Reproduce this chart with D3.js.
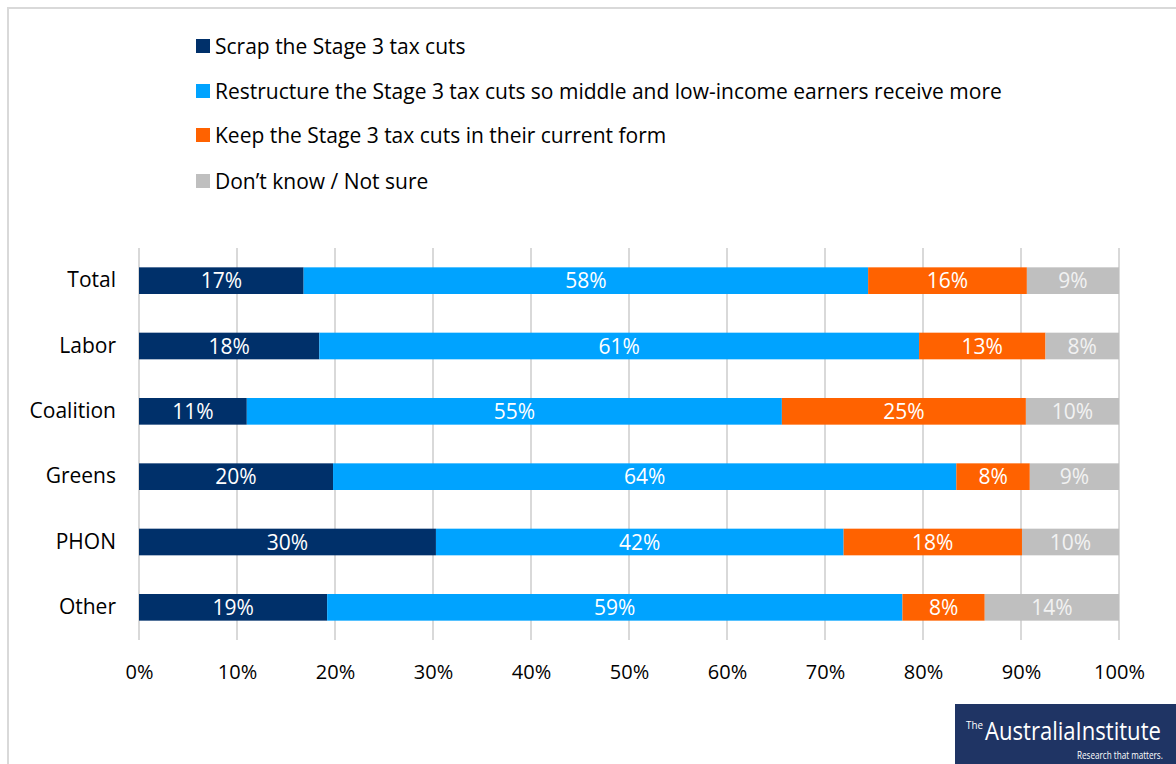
<!DOCTYPE html>
<html>
<head>
<meta charset="utf-8">
<script src="https://cdn.jsdelivr.net/npm/d3@7"></script>
<style>
  html, body { margin: 0; padding: 0; background: #fff; }
  svg { display: block; }
  text { font-family: "Open Sans", Lato, sans-serif; }
</style>
</head>
<body>
<svg id="chart" width="1176" height="764"></svg>
<script>
const categories = ["Total", "Labor", "Coalition", "Greens", "PHON", "Other"];
const seriesNames = [
  "Scrap the Stage 3 tax cuts",
  "Restructure the Stage 3 tax cuts so middle and low-income earners receive more",
  "Keep the Stage 3 tax cuts in their current form",
  "Don\u2019t know / Not sure"
];
const scrap       = [16.8, 18.4, 11.0, 19.8, 30.3, 19.2];
const restructure = [57.6, 61.2, 54.6, 63.6, 41.6, 58.7];
const keep        = [16.2, 12.9, 24.9,  7.5, 18.2,  8.4];
const dontKnow    = [ 9.4,  7.5,  9.5,  9.1,  9.9, 13.7];
const tickValues  = [0, 10, 20, 30, 40, 50, 60, 70, 80, 90, 100];

const colors = ["#00306A", "#00A3FF", "#FF6200", "#BFBFBF"];
const labelColors = ["#FFFFFF", "#FFFFFF", "#FFFFFF", "#F2F2F2"];
const seriesValues = [scrap, restructure, keep, dontKnow];
const FONT = "'Open Sans', Lato, sans-serif";

const svg = d3.select("#chart");

// outer frame
svg.append("rect").attr("x", 8).attr("y", 8).attr("width", 1180).attr("height", 770)
  .attr("fill", "none").attr("stroke", "#D9D9D9").attr("stroke-width", 2);

const x = d3.scaleLinear().domain([0, 100]).range([139, 1119]);
const y = d3.scaleBand().domain(categories).range([248, 640]).paddingInner(0.592).paddingOuter(0.296);

// gridlines
svg.append("g").selectAll("line").data(tickValues).join("line")
  .attr("x1", d => x(d)).attr("x2", d => x(d))
  .attr("y1", 248).attr("y2", 640)
  .attr("stroke", "#D9D9D9").attr("stroke-width", 2);

// x tick labels
const xAxis = d3.axisBottom(x).tickValues(tickValues).tickFormat(d => d + "%").tickSize(0).tickPadding(0);
const gx = svg.append("g").attr("transform", "translate(0,664)").call(xAxis);
gx.select(".domain").remove();
gx.selectAll("text").attr("font-size", 20).attr("fill", "#000").attr("font-family", FONT)
  .attr("dy", "0.36em").attr("y", 8);

// y labels
const yAxis = d3.axisLeft(y).tickSize(0).tickPadding(0);
const gy = svg.append("g").attr("transform", "translate(116,0)").call(yAxis);
gy.select(".domain").remove();
gy.selectAll("text").attr("font-size", 21).attr("fill", "#000").attr("font-family", FONT);

// stacked bars
const rows = categories.map((c, i) => {
  let acc = 0;
  return seriesValues.map((s, k) => {
    const start = acc; acc += s[i];
    return { cat: c, k, v: s[i], x0: start, x1: acc };
  });
}).flat();

svg.append("g").selectAll("rect").data(rows).join("rect")
  .attr("x", d => x(d.x0)).attr("width", d => x(d.x1) - x(d.x0))
  .attr("y", d => y(d.cat)).attr("height", y.bandwidth())
  .attr("fill", d => colors[d.k]);

svg.append("g").selectAll("text").data(rows).join("text")
  .attr("x", d => (x(d.x0) + x(d.x1)) / 2)
  .attr("y", d => y(d.cat) + y.bandwidth() / 2)
  .attr("dy", "0.36em")
  .attr("text-anchor", "middle")
  .attr("font-size", 21)
  .attr("font-family", FONT)
  .attr("fill", d => labelColors[d.k])
  .text(d => Math.round(d.v) + "%");

// legend
const legendY = [46, 91, 135, 181];
const lg = svg.append("g").selectAll("g").data(seriesNames).join("g")
  .attr("transform", (d, i) => `translate(196,${legendY[i]})`);
lg.append("rect").attr("x", 0).attr("y", -7).attr("width", 14).attr("height", 14)
  .attr("fill", (d, i) => colors[i]);
lg.append("text").attr("x", 19).attr("y", 0).attr("dy", "0.36em")
  .attr("font-size", 21).attr("font-family", FONT).attr("fill", "#000").text(d => d);

// logo (condensed by scaling each text to its target width)
const LOGOFONT = "Roboto, 'Open Sans', sans-serif";
const logo = svg.append("g");
logo.append("rect").attr("x", 955).attr("y", 704).attr("width", 221).attr("height", 60).attr("fill", "#1F3464");
function fitText(str, x0, y0, size, weight, targetW) {
  const t = logo.append("text").attr("x", 0).attr("y", 0).attr("font-size", size)
    .attr("font-weight", weight).attr("fill", "#fff").attr("font-family", LOGOFONT).text(str);
  const w = t.node().getComputedTextLength();
  const s = Math.min(1, targetW / w);
  t.attr("transform", `translate(${x0},${y0}) scale(${s},1)`);
}
fitText("The", 966, 729, 11, 400, 17);
fitText("AustraliaInstitute", 985, 740, 25, 500, 176);
fitText("Research that matters.", 1077, 759, 11, 400, 86);
</script>
</body>
</html>
